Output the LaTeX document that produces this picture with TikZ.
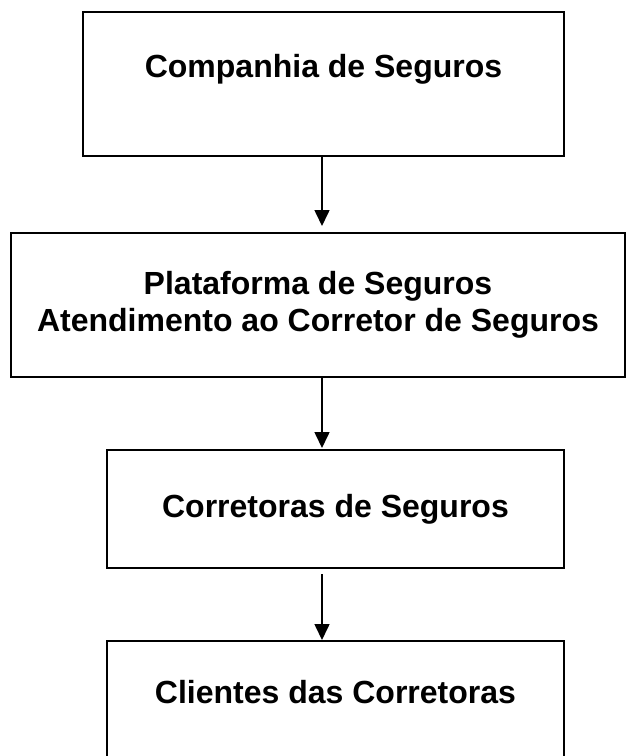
\documentclass[tikz,border=0pt]{standalone}
\usepackage{fontspec}
\setmainfont{Liberation Sans}
\usetikzlibrary{arrows.meta}

\tikzset{
    boxnode/.style={draw, line width=2pt, inner sep=0pt,
        font=\bfseries\fontsize{32}{37}\selectfont, align=center},
    flowarrow/.style={line width=1.6pt, -{Triangle[length=16pt,width=15pt]}}
}

\begin{document}
\begin{tikzpicture}[x=1pt,y=-1pt]%
    \useasboundingbox (0,0) rectangle (626,756);
    \clip (0,0) rectangle (626,756);
    % the four levels
    \node[boxnode, minimum width=481pt, minimum height=144pt,
          text height=23pt, text depth=37pt] (companhia) at (323.5,84) {Companhia de Seguros};
    \node[boxnode, minimum width=614pt, minimum height=144pt] (plataforma) at (318,305)
        {Plataforma de Seguros\\Atendimento ao Corretor de Seguros};
    \node[boxnode, minimum width=457pt, minimum height=118pt] (corretoras) at (335.5,509) {Corretoras de Seguros};
    \node[boxnode, minimum width=457pt, minimum height=118pt,
          text height=23pt, text depth=17pt] (clientes) at (335.5,700) {Clientes das Corretoras};
    % arrows between the levels
    \coordinate (axis) at (322,0);
    \draw[flowarrow, shorten >=6pt] (companhia.south -| axis) -- (plataforma.north -| axis);
    \draw[flowarrow, shorten >=1pt] (plataforma.south -| axis) -- (corretoras.north -| axis);
    \draw[flowarrow, shorten <=5pt] (corretoras.south -| axis) -- (clientes.north -| axis);
\end{tikzpicture}
\end{document}
